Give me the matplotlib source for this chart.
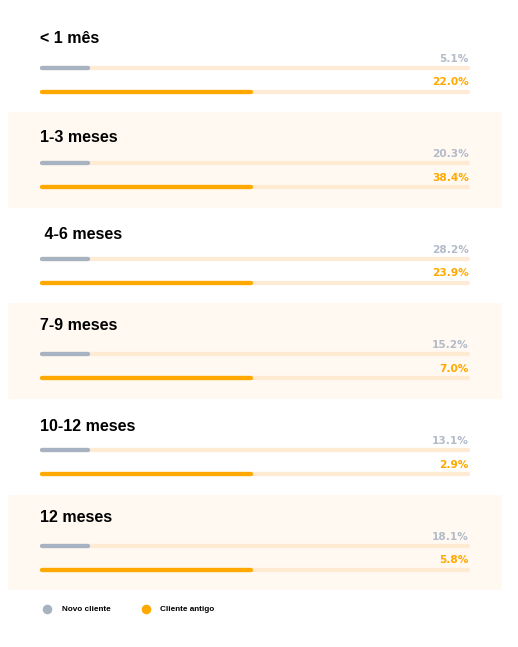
import matplotlib.pyplot as plt

# data
categorias = ['< 1 mês', '1-3 meses', ' 4-6 meses', '7-9 meses', '10-12 meses', '12 meses']
novo_cliente = [5.1, 20.3, 28.2, 15.2, 13.1, 18.1]
cliente_antigo = [22.0, 38.4, 23.9, 7.0, 2.9, 5.8]
# filled part of each track, as drawn (same for every row in the source)
novo_fill = [11.7, 11.7, 11.7, 11.7, 11.7, 11.7]
antigo_fill = [49.6, 49.6, 49.6, 49.6, 49.6, 49.6]

GRAY = '#A7B2C2'
GRAY_TXT = '#B3BBC9'
ORANGE = '#FFA800'
TRACK = '#FFEBD4'
PANEL = '#FFF9F2'

W, H = 518, 647
fig = plt.figure(figsize=(W / 100, H / 100), dpi=100)
ax = fig.add_axes([0, 0, 1, 1])
ax.set_xlim(0, W)
ax.set_ylim(H, 0)
ax.axis('off')

x0, x1 = 40, 470
lw = 4.3 * 72 / 100  # ~4 px in points
row_y = [67.7, 163.3, 259, 354.3, 450, 545.7]
title_off = [-29.5, -25.3, -24.7, -28.3, -23.3, -28]


def bar(y, frac, color):
    # rounded line, shortened by the cap radius so ends sit on the pixels
    end = x0 + (x1 - x0) * frac / 100
    ax.plot([x0 + 2, end - 2], [y, y], color=color, lw=lw,
            solid_capstyle='round', zorder=3)


for i, cat in enumerate(categorias):
    y = row_y[i]
    if i % 2 == 1:
        ax.add_patch(plt.Rectangle((8, y - 51), 494, 95.5, color=PANEL, lw=0, zorder=0))
    ax.text(39.5, y + title_off[i], cat, fontsize=11.5,
            fontweight='bold', family='Liberation Sans', va='center', ha='left')
    # tracks
    bar(y, 100, TRACK)
    bar(y + 24, 100, TRACK)
    bar(y, novo_fill[i], GRAY)
    bar(y + 24, antigo_fill[i], ORANGE)
    ax.text(x1 - 1, y - 9, f'{novo_cliente[i]:.1f}%', fontsize=7.6, fontweight='bold',
            color=GRAY_TXT, ha='right', va='center')
    ax.text(x1 - 1, y + 14.5, f'{cliente_antigo[i]:.1f}%', fontsize=7.6, fontweight='bold',
            color=ORANGE, ha='right', va='center')

# legend
ax.scatter([46.7], [609.3], s=48, color=GRAY, lw=0)
ax.text(62, 609.5, 'Novo cliente', fontsize=5.9, family='Liberation Sans',
        fontweight='bold', va='center')
ax.scatter([145.7], [609.3], s=48, color=ORANGE, lw=0)
ax.text(160.5, 609.5, 'Cliente antigo', fontsize=5.9, family='Liberation Sans',
        fontweight='bold', va='center')

fig.savefig('out.png', dpi=100)
